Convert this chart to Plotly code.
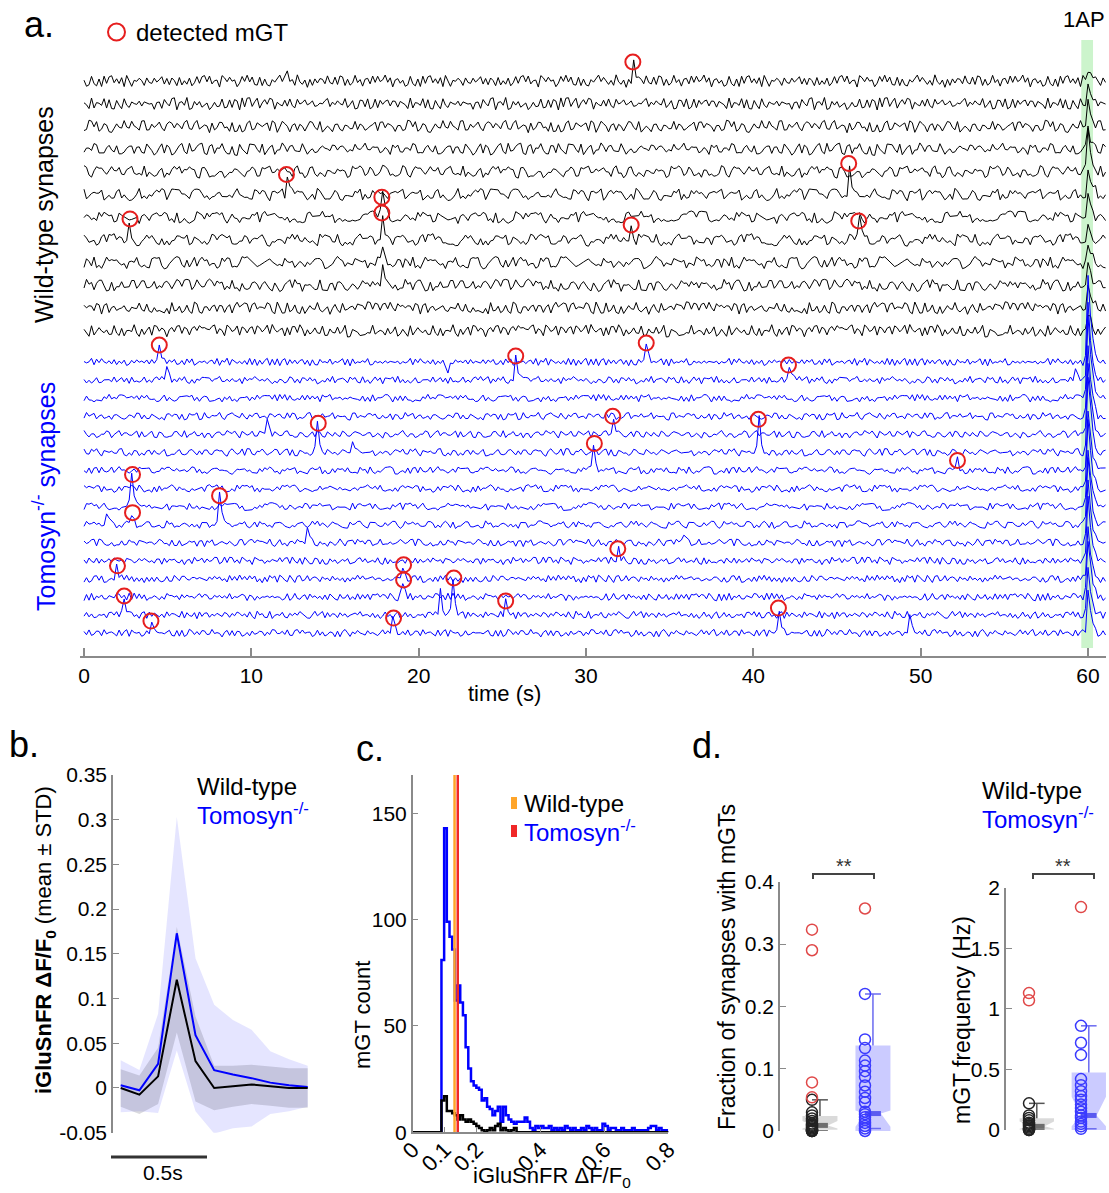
import plotly.graph_objects as go

W, H = 1109, 1193
FONT = "Liberation Sans, Arial, Helvetica, sans-serif"
BLUE = "#0000ff"
RED = "#e61e1e"

# ---------------- panel a data ----------------
TIME_TICKS = [0, 10, 20, 30, 40, 50, 60]
SAMPLE_DT = 0.15
RECORD_END = 61.0
AP_TIME = 60.0
AP_BAND = [59.6, 60.3]

NOISE = [0.12, -0.45, 0.78, -0.22, 0.35, -0.81, 0.05, 0.62, -0.37, 0.91, -0.58, 0.14, -0.69, 0.43,
         -0.08, 0.71, -0.93, 0.27, -0.16, 0.55, -0.41, 0.83, -0.64, 0.19, 0.02, -0.75, 0.48, -0.29,
         0.66, -0.52, 0.31, -0.11, 0.87, -0.47, 0.09, -0.84, 0.58, -0.24, 0.39, -0.66, 0.74, -0.03,
         0.22, -0.57, 0.95, -0.36, 0.17, -0.79, 0.46, -0.13, 0.63, -0.88, 0.28, 0.07, -0.51, 0.81,
         -0.33, 0.41, -0.72, 0.15, -0.26, 0.69, -0.44, 0.53, -0.97, 0.34, -0.06, 0.77, -0.61, 0.24,
         -0.38, 0.89, -0.21, 0.04, -0.67, 0.51, -0.15, 0.73, -0.49, 0.32, -0.86, 0.61, -0.09, 0.44,
         -0.31, 0.85, -0.54, 0.18, -0.74, 0.37, 0.01, -0.63, 0.92, -0.27, 0.26, -0.82, 0.57, -0.19,
         0.67, -0.42, 0.11, -0.71, 0.49, -0.35, 0.79, -0.05, 0.29, -0.91, 0.64, -0.23, 0.42, -0.59,
         0.16, 0.84, -0.46, 0.06, -0.77, 0.36, -0.12, 0.59, -0.68, 0.21, -0.34, 0.76, -0.53, 0.47,
         -0.18]
EVENT_SHAPE = [0.1, 1.0, 0.3, 0.08]
AP_SHAPE = [0.1, 1.0, 0.55, 0.25, 0.1]

WT_NOISE_STEP = [5, 7, 11, 13, 17, 19, 23, 29, 31, 37, 41, 43]
TOM_NOISE_STEP = [3, 47, 53, 59, 61, 67, 71, 73, 79, 83, 89, 97, 101, 103, 107, 109]
WT_AP_AMP = [14, 18, 22, 20, 38, 30, 26, 20, 16, 18, 22, 16]
TOM_AP_AMP = [85, 75, 80, 70, 72, 78, 60, 66, 55, 70, 62, 64, 50, 58, 45, 40]

WT_EVT_TRACE = [0, 5, 5, 6, 7, 7, 7, 7]
WT_EVT_TIME = [32.8, 12.1, 45.7, 17.8, 2.75, 17.8, 32.7, 46.3]
WT_EVT_AMP = [19, 20, 31, 20, 21, 27, 15, 19]

TOM_EVT_TRACE = [0, 1, 0, 1, 5, 4, 5, 6, 6, 8, 9, 9, 11, 12, 12, 13, 14, 14, 14, 15, 15, 15]
TOM_EVT_TIME = [4.5, 25.8, 33.6, 42.1, 14.0, 31.6, 40.3, 30.5, 52.2, 2.9, 2.9, 8.1, 31.9, 2.0,
                19.1, 19.1, 22.1, 2.4, 25.2, 4.0, 18.5, 41.5]
TOM_EVT_AMP = [17, 24, 19, 15, 29, 18, 33, 27, 10, 32, 12, 29, 12, 13, 14, 17, 37, 19, 14, 12, 15, 25]

WT_MINOR_TRACE = [0, 4, 8, 9, 3]
WT_MINOR_TIME = [12.2, 17.8, 17.8, 17.8, 28.0]
WT_MINOR_AMP = [10, 12, 14, 18, 9]
TOM_MINOR_TRACE = [1, 4, 9, 10, 0, 5, 14, 1, 15, 10]
TOM_MINOR_TIME = [5.0, 11.0, 1.4, 13.3, 21.8, 16.1, 21.3, 59.2, 49.3, 35.8]
TOM_MINOR_AMP = [12, 14, 12, 14, -9, 10, 24, 11, 15, 9]

# ---------------- panel b data ----------------
B_TIME = [0.0, 0.1, 0.2, 0.3, 0.4, 0.5, 0.6, 0.7, 0.8, 0.9, 1.0]
B_WT_MEAN = [0.0, -0.0075, 0.013, 0.121, 0.03, 0.0, 0.002, 0.004, 0.002, 0.0, 0.0]
B_WT_UP = [0.021, 0.014, 0.045, 0.18, 0.08, 0.025, 0.025, 0.026, 0.024, 0.022, 0.022]
B_WT_LO = [-0.021, -0.029, -0.018, 0.062, -0.015, -0.025, -0.021, -0.018, -0.02, -0.022, -0.022]
B_TOM_MEAN = [0.003, -0.0026, 0.027, 0.173, 0.059, 0.02, 0.015, 0.011, 0.006, 0.003, 0.001]
B_TOM_UP = [0.031, 0.02, 0.083, 0.303, 0.145, 0.093, 0.076, 0.065, 0.041, 0.032, 0.025]
B_TOM_LO = [-0.027, -0.026, -0.028, 0.042, -0.026, -0.051, -0.045, -0.043, -0.029, -0.026, -0.021]
B_TICKS = [-0.05, 0, 0.05, 0.1, 0.15, 0.2, 0.25, 0.3, 0.35]
B_TICKTEXT = ["-0.05", "0", "0.05", "0.1", "0.15", "0.2", "0.25", "0.3", "0.35"]

# ---------------- panel c data ----------------
C_BIN_START = 0.09
C_BIN_WIDTH = 0.0084
C_TOM_COUNTS = [81, 143, 99, 92, 86, 62, 69, 61, 55, 40, 30, 24, 22, 21, 20, 15, 16, 12, 11, 8,
                10, 12, 5, 12, 8, 6, 5, 4, 5, 5, 5, 7, 5, 2, 1, 3, 2, 3, 2, 2,
                3, 1, 2, 1, 2, 1, 3, 2, 1, 2, 1, 1, 2, 1, 3, 2, 1, 2, 1, 1,
                4, 3, 1, 2, 2, 1, 1, 2, 1, 1, 1, 2, 1, 1, 1, 1, 1, 2, 3, 3,
                1, 2, 1, 1, 0]
C_WT_COUNTS = [15, 17, 10, 10, 9, 8, 6, 8, 6, 5, 6, 5, 4, 3, 2, 1, 0, 1, 2, 1,
               3, 4, 1, 2, 1, 0, 1, 2, 0, 0, 0, 0, 0, 0, 0, 0, 0, 0, 0, 0,
               0, 0, 0, 0, 0, 0, 0, 0, 0, 0, 0, 0, 0, 0, 0, 0, 0, 0, 0, 0,
               0, 0, 0, 0, 0, 0, 0, 0, 0, 0, 0, 0, 0, 0, 0, 0, 0, 0, 0, 0,
               0, 0, 0, 0, 0]
C_WT_MEDIAN = 0.131
C_TOM_MEDIAN = 0.141
C_XTICKS = [0, 0.1, 0.2, 0.4, 0.6, 0.8]
C_XTICKTEXT = ["0", "0.1", "0.2", "0.4", "0.6", "0.8"]
C_YTICKS = [0, 50, 100, 150]

# ---------------- panel d data ----------------
D1_WT = [0.05, 0.03, 0.025, 0.02, 0.016, 0.012, 0.01, 0.008, 0.006, 0.004, 0.002, 0.0, 0.0, 0.0]
D1_WT_OUT = [0.323, 0.29, 0.078, 0.054]
D1_TOM = [0.22, 0.147, 0.133, 0.113, 0.105, 0.096, 0.087, 0.073, 0.063, 0.053, 0.046, 0.031,
          0.027, 0.022, 0.018, 0.013, 0.008, 0.004, 0.0]
D1_TOM_OUT = [0.357]
# stats: q1, notch_lo, median, notch_hi, q3, whisker_lo, whisker_hi
D1_WT_STATS = [0.002, 0.004, 0.009, 0.016, 0.024, 0.0, 0.05]
D1_TOM_STATS = [0.0, 0.007, 0.028, 0.033, 0.137, 0.004, 0.22]
D1_TICKS = [0, 0.1, 0.2, 0.3, 0.4]

D2_WT = [0.22, 0.12, 0.1, 0.08, 0.06, 0.05, 0.04, 0.03, 0.02, 0.01, 0.0, 0.0]
D2_WT_OUT = [1.13, 1.07]
D2_TOM = [0.86, 0.72, 0.62, 0.42, 0.37, 0.32, 0.28, 0.25, 0.21, 0.18, 0.15, 0.12, 0.1, 0.07,
          0.05, 0.03, 0.01]
D2_TOM_OUT = [1.84]
D2_WT_STATS = [0.005, 0.01, 0.03, 0.07, 0.096, 0.0, 0.22]
D2_TOM_STATS = [0.0, 0.03, 0.12, 0.275, 0.475, 0.01, 0.86]
D2_TICKS = [0, 0.5, 1, 1.5, 2]

# ---------------- helpers ----------------
def px(x):
    return x / W


def py(y):
    return 1 - y / H


fig = go.Figure()

# ---------------- panel a ----------------
n_samp = int(round(RECORD_END / SAMPLE_DT)) + 1
times = [i * SAMPLE_DT for i in range(n_samp)]
L = len(NOISE)


def add_shape_at(sig, t, amp, shape, peak_idx=1):
    c = int(round(t / SAMPLE_DT))
    for j, f in enumerate(shape):
        idx = c - peak_idx + j
        if 0 <= idx < n_samp:
            sig[idx] += amp * f


def build_trace(k, step, scale, ap_amp, evts):
    sig = [scale * NOISE[(i * step + 11 * k) % L] for i in range(n_samp)]
    for t, a in evts:
        add_shape_at(sig, t, a, EVENT_SHAPE)
    add_shape_at(sig, AP_TIME, ap_amp, AP_SHAPE)
    return sig


WT_TOP, WT_GAP = 81.0, 22.7
TOM_TOP, TOM_GAP = 362.0, 18.07

groups = [
    (len(WT_NOISE_STEP), WT_TOP, WT_GAP, WT_NOISE_STEP, 6.5, WT_AP_AMP,
     WT_EVT_TRACE, WT_EVT_TIME, WT_EVT_AMP, WT_MINOR_TRACE, WT_MINOR_TIME, WT_MINOR_AMP, "#000000"),
    (len(TOM_NOISE_STEP), TOM_TOP, TOM_GAP, TOM_NOISE_STEP, 4.0, TOM_AP_AMP,
     TOM_EVT_TRACE, TOM_EVT_TIME, TOM_EVT_AMP, TOM_MINOR_TRACE, TOM_MINOR_TIME, TOM_MINOR_AMP, BLUE),
]

circ_x, circ_y = [], []
for (n, top, gap, steps, scale, apamp, et, etime, eamp, mt, mtime, mamp, col) in groups:
    for k in range(n):
        evts = [(etime[i], eamp[i]) for i in range(len(et)) if et[i] == k]
        evts += [(mtime[i], mamp[i]) for i in range(len(mt)) if mt[i] == k]
        sig = build_trace(k, steps[k], scale, apamp[k], evts)
        off = top + k * gap
        fig.add_trace(go.Scatter(x=times, y=[off - s for s in sig], mode="lines",
                                 line=dict(color=col, width=1), xaxis="x", yaxis="y",
                                 hoverinfo="skip"))
    for i in range(len(et)):
        circ_x.append(etime[i])
        circ_y.append(top + et[i] * gap - eamp[i])

fig.add_trace(go.Scatter(x=circ_x, y=circ_y, mode="markers", xaxis="x", yaxis="y",
                         marker=dict(symbol="circle-open", size=15, color=RED,
                                     line=dict(width=2, color=RED)), cliponaxis=False))

# ---------------- panel b ----------------
fig.add_trace(go.Scatter(x=B_TIME, y=B_TOM_LO, mode="lines", line=dict(width=0),
                         xaxis="x2", yaxis="y2", hoverinfo="skip"))
fig.add_trace(go.Scatter(x=B_TIME, y=B_TOM_UP, mode="lines", line=dict(width=0), fill="tonexty",
                         fillcolor="rgba(40,40,255,0.12)", xaxis="x2", yaxis="y2"))
fig.add_trace(go.Scatter(x=B_TIME, y=B_WT_LO, mode="lines", line=dict(width=0),
                         xaxis="x2", yaxis="y2", hoverinfo="skip"))
fig.add_trace(go.Scatter(x=B_TIME, y=B_WT_UP, mode="lines", line=dict(width=0), fill="tonexty",
                         fillcolor="rgba(70,70,90,0.2)", xaxis="x2", yaxis="y2"))
fig.add_trace(go.Scatter(x=B_TIME, y=B_TOM_MEAN, mode="lines", line=dict(color=BLUE, width=2),
                         xaxis="x2", yaxis="y2"))
fig.add_trace(go.Scatter(x=B_TIME, y=B_WT_MEAN, mode="lines", line=dict(color="#000000", width=2),
                         xaxis="x2", yaxis="y2"))

# ---------------- panel c ----------------
def step_xy(counts):
    xs = [0.0] + [C_BIN_START + i * C_BIN_WIDTH for i in range(len(counts) + 1)]
    ys = [0] + list(counts) + [0]
    return xs, ys


for counts, col in [(C_TOM_COUNTS, BLUE), (C_WT_COUNTS, "#000000")]:
    xs, ys = step_xy(counts)
    fig.add_trace(go.Scatter(x=xs, y=ys, mode="lines", line=dict(color=col, width=2.5, shape="hv"),
                             xaxis="x3", yaxis="y3", cliponaxis=False))
for med, col in [(C_WT_MEDIAN, "#ffa52a"), (C_TOM_MEDIAN, "#f02828")]:
    fig.add_trace(go.Scatter(x=[med, med], y=[0, 168], mode="lines", line=dict(color=col, width=2.5),
                             xaxis="x3", yaxis="y3"))

# ---------------- panel d ----------------
BOX_OFF, BOX_HALF, NOTCH_HALF = 0.15, 0.33, 0.15


def add_box(stats, center, fill, medcol, whiskcol, xa, ya):
    q1, nlo, med, nhi, q3, wlo, whi = stats
    c = center + BOX_OFF
    xs = [c - BOX_HALF, c + BOX_HALF, c + BOX_HALF, c + NOTCH_HALF, c + BOX_HALF, c + BOX_HALF,
          c - BOX_HALF, c - BOX_HALF, c - NOTCH_HALF, c - BOX_HALF, c - BOX_HALF]
    ys = [q3, q3, nhi, med, nlo, q1, q1, nlo, med, nhi, q3]
    fig.add_trace(go.Scatter(x=xs, y=ys, mode="lines", fill="toself", fillcolor=fill,
                             line=dict(width=0), xaxis=xa, yaxis=ya, cliponaxis=False))
    fig.add_trace(go.Scatter(x=[c, c, None, c - NOTCH_HALF, c + NOTCH_HALF, None,
                                c - NOTCH_HALF * 0.5, c + NOTCH_HALF],
                             y=[q3, whi, None, whi, whi, None, wlo, wlo], mode="lines",
                             line=dict(color=whiskcol, width=1.5), xaxis=xa, yaxis=ya,
                             cliponaxis=False))
    fig.add_trace(go.Scatter(x=[c - NOTCH_HALF, c + NOTCH_HALF], y=[med, med], mode="lines",
                             line=dict(color=medcol, width=5), xaxis=xa, yaxis=ya,
                             cliponaxis=False))


def add_points(vals, xpos, col, xa, ya):
    fig.add_trace(go.Scatter(x=[xpos] * len(vals), y=vals, mode="markers", xaxis=xa, yaxis=ya,
                             marker=dict(symbol="circle-open", size=11, color=col,
                                         line=dict(width=1.5, color=col)), cliponaxis=False))


for (wt, wto, tom, tomo, wts, toms, xa, ya) in [
        (D1_WT, D1_WT_OUT, D1_TOM, D1_TOM_OUT, D1_WT_STATS, D1_TOM_STATS, "x4", "y4"),
        (D2_WT, D2_WT_OUT, D2_TOM, D2_TOM_OUT, D2_WT_STATS, D2_TOM_STATS, "x5", "y5")]:
    add_box(wts, 1, "rgba(205,205,205,0.75)", "#6e6e6e", "#555555", xa, ya)
    add_box(toms, 2, "rgba(190,190,255,0.8)", "#5a5af0", "#6a6af0", xa, ya)
    add_points(wt, 1, "#222222", xa, ya)
    add_points(wto, 1, "#e04848", xa, ya)
    add_points(tom, 2, "#3a3aff", xa, ya)
    add_points(tomo, 2, "#e04848", xa, ya)

# ---------------- layout ----------------
AX_GRAY = "#8a8a8a"
tickfont = dict(family=FONT, size=21, color="#000000")


def yax(domain, rng, tickvals, ticktext, anchor):
    return dict(domain=domain, range=rng, tickvals=tickvals, ticktext=ticktext, anchor=anchor,
                showline=True, linecolor=AX_GRAY, linewidth=1.5, ticks="inside", ticklen=6,
                tickcolor=AX_GRAY, tickwidth=1.2, showgrid=False, zeroline=False, tickfont=tickfont,
                automargin=False)


a_x0, a_x1 = 80, 1106
a_scale = 1004 / 60.0
layout = dict(
    template="none",
    width=W, height=H, autosize=False, margin=dict(l=0, r=0, t=0, b=0, pad=0), showlegend=False,
    paper_bgcolor="white", plot_bgcolor="rgba(0,0,0,0)", font=dict(family=FONT),
    xaxis=dict(domain=[px(a_x0), px(a_x1)],
               range=[(a_x0 - 84) / a_scale, (a_x1 - 84) / a_scale], anchor="y",
               tickvals=TIME_TICKS, showline=True, linecolor=AX_GRAY, linewidth=2,
               ticks="inside", ticklen=8, tickcolor=AX_GRAY, tickwidth=1.5, showgrid=False,
               zeroline=False, tickfont=tickfont, automargin=False),
    yaxis=dict(domain=[py(656), py(30)], range=[656, 30], visible=False, anchor="x",
               automargin=False),
    xaxis2=dict(domain=[px(113), px(312)], range=[(113 - 120.7) / 187, (312 - 120.7) / 187],
                visible=False, anchor="y2", automargin=False),
    yaxis2=yax([py(1132.7), py(775)], [-0.05, 0.35], B_TICKS, B_TICKTEXT, "x2"),
    xaxis3=dict(domain=[px(412.7), px(668.3)], range=[0, 0.8], anchor="y3",
                tickvals=C_XTICKS, ticktext=C_XTICKTEXT, tickangle=-45, showline=True,
                linecolor=AX_GRAY, linewidth=1.5, ticks="inside", ticklen=6, tickcolor=AX_GRAY,
                showgrid=False, zeroline=False, tickfont=dict(family=FONT, size=22, color="#000"),
                ticklabelstandoff=-6, automargin=False),
    yaxis3=yax([py(1132.3), py(775)], [0, 168], C_YTICKS, [str(v) for v in C_YTICKS], "x3"),
    xaxis4=dict(domain=[px(780), px(905)], range=[1 - 32 / 53, 1 - 32 / 53 + 125 / 53],
                visible=False, anchor="y4", automargin=False),
    yaxis4=yax([py(1131), py(881.7)], [0, 0.4], D1_TICKS, ["0", "0.1", "0.2", "0.3", "0.4"], "x4"),
    xaxis5=dict(domain=[px(1006), px(1108)], range=[1 - 23 / 52, 1 - 23 / 52 + 102 / 52],
                visible=False, anchor="y5", automargin=False),
    yaxis5=yax([py(1130), py(887.7)], [0, 2], D2_TICKS, ["0", "0.5", "1", "1.5", "2"], "x5"),
)
fig.update_layout(**layout)

shapes = [
    dict(type="rect", xref="x", yref="y", x0=AP_BAND[0], x1=AP_BAND[1], y0=40, y1=648,
         fillcolor="rgba(120,225,120,0.38)", line=dict(width=0), layer="below"),
    dict(type="circle", xref="paper", yref="paper", x0=px(108), x1=px(125), y0=py(40.5), y1=py(23.5),
         line=dict(color=RED, width=2)),
    dict(type="line", xref="paper", yref="paper", x0=px(111), x1=px(207), y0=py(1157), y1=py(1157),
         line=dict(color="#333333", width=3)),
    dict(type="rect", xref="paper", yref="paper", x0=px(511), x1=px(517), y0=py(809), y1=py(797),
         fillcolor="#ffa52a", line=dict(width=0)),
    dict(type="rect", xref="paper", yref="paper", x0=px(511), x1=px(517), y0=py(837), y1=py(825),
         fillcolor="#f02828", line=dict(width=0)),
]
for (xa, xb) in [(813, 874), (1033, 1094)]:
    shapes.append(dict(type="path", xref="paper", yref="paper",
                       path=f"M {px(xa)},{py(879)} L {px(xa)},{py(874)} L {px(xb)},{py(874)} L {px(xb)},{py(879)}",
                       line=dict(color="#444444", width=2)))
fig.update_layout(shapes=shapes)


def ann(text, x, y, size, color="#000000", angle=0, xanchor="center"):
    return dict(text=text, x=px(x), y=py(y), xref="paper", yref="paper", showarrow=False,
                font=dict(family=FONT, size=size, color=color), textangle=angle,
                xanchor=xanchor, yanchor="middle")


TOM_TXT = "Tomosyn<sup>-/-</sup>"
annotations = [
    ann("a.", 39, 24, 36),
    ann("detected mGT", 134, 32, 24, xanchor="left"),
    ann("1AP", 1084, 19, 22),
    ann("time (s)", 505, 693, 22),
    ann("Wild-type synapses", 44, 215, 25, angle=-90),
    ann("Tomosyn<sup>-/-</sup> synapses", 44, 497, 25, color=BLUE, angle=-90),
    ann("b.", 24, 744, 36),
    ann("<b>iGluSnFR ΔF/F<sub>0</sub></b> (mean ± STD)", 45, 940, 22, angle=-90),
    ann("Wild-type", 195, 786, 24, xanchor="left"),
    ann(TOM_TXT, 195, 814, 24, color=BLUE, xanchor="left"),
    ann("0.5s", 163, 1172, 21),
    ann("c.", 370, 748, 36),
    ann("mGT count", 362, 1015, 22, angle=-90),
    ann("iGluSnFR ΔF/F<sub>0</sub>", 552, 1177, 22),
    ann("Wild-type", 522, 803, 24, xanchor="left"),
    ann(TOM_TXT, 522, 831, 24, color=BLUE, xanchor="left"),
    ann("d.", 707, 745, 36),
    ann("Fraction of synapses with mGTs", 727, 967, 23, angle=-90),
    ann("mGT frequency (Hz)", 962, 1020, 23, angle=-90),
    ann("Wild-type", 980, 790, 24, xanchor="left"),
    ann(TOM_TXT, 980, 818, 24, color=BLUE, xanchor="left"),
    ann("**", 844, 866, 20, color="#333333"),
    ann("**", 1063, 866, 20, color="#333333"),
]
fig.update_layout(annotations=annotations)

fig.write_html("out.html",
               post_script="document.body.style.margin='0';document.body.style.overflow='hidden';")
